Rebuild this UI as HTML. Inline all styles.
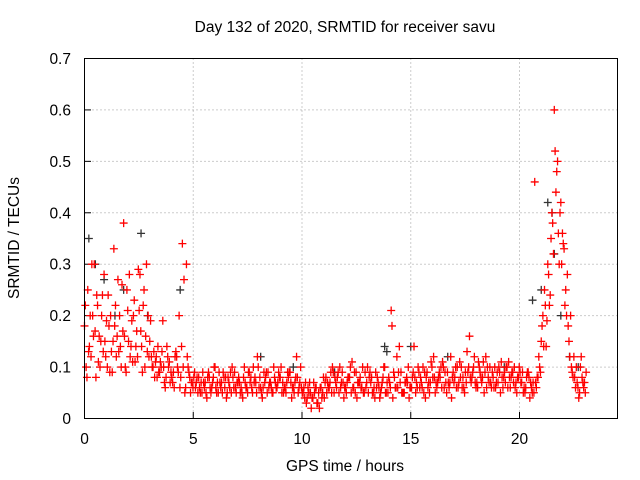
<!DOCTYPE html>
<html><head><meta charset="utf-8"><style>
body{margin:0;background:#fff;}
svg{display:block;font-family:"Liberation Sans",sans-serif;font-size:15.5px;}
</style></head><body>
<svg id="chart" width="640" height="480">
<text x="345" y="32" text-anchor="middle">Day 132 of 2020, SRMTID for receiver savu</text>
<text x="345" y="471" text-anchor="middle">GPS time / hours</text>
<text transform="translate(19,238) rotate(-90)" text-anchor="middle">SRMTID / TECUs</text>
<g id="grid"></g>
<g id="ticks"></g>
<g id="pts"></g>
<rect x="84.5" y="58.5" width="533" height="360" fill="none" stroke="#000"/>
</svg>
<script>
const xTicks=[0,5,10,15,20];
const yTicks=[0,0.1,0.2,0.3,0.4,0.5,0.6,0.7];
const yTickLabels=["0","0.1","0.2","0.3","0.4","0.5","0.6","0.7"];
const step=0.15;
const seriesAStart=0;
const seriesA=[0.18,0.25,0.12,0.3,0.22,0.15,0.28,0.1,0.2,0.33,0.16,0.14,0.38,0.25,0.12,0.2,0.17,0.28,0.22,0.3,0.15,
0.1,0.12,0.09,0.19,0.08,0.11,0.07,0.13,0.2,0.34,0.06,0.09,0.07,
0.06,0.08,0.05,0.07,0.09,0.06,0.1,0.05,0.07,0.06,0.08,0.05,0.09,0.07,0.06,0.1,0.05,0.08,0.07,0.12,0.06,0.09,0.05,0.07,0.1,0.06,0.08,0.05,0.07,0.09,0.06,0.12,0.07,
0.05,0.03,0.07,0.04,0.06,0.02,0.05,0.08,0.06,0.1,0.07,0.05,0.09,0.06,0.08,0.11,0.05,0.07,0.06,0.09,0.05,0.08,0.04,0.07,0.06,0.1,0.05,0.21,0.08,0.06,0.09,0.05,0.07,0.06,
0.14,0.06,0.08,0.05,0.09,0.07,0.12,0.06,0.08,0.1,0.05,0.07,0.09,0.06,0.11,0.08,0.07,0.16,0.09,0.06,0.1,0.08,0.12,0.07,0.09,0.06,0.1,0.08,0.07,0.11,0.09,0.06,0.08,
0.07,0.05,0.09,0.06,0.46,0.08,0.15,0.25,0.3,0.35,0.6,0.5,0.42,0.33,0.28,0.2,0.12,0.07,0.1,0.06];
const seriesBStart=0.075;
const seriesB=[0.1,0.14,0.2,0.08,0.16,0.24,0.12,0.18,0.09,0.22,0.13,0.26,0.1,0.15,0.19,0.11,0.29,0.14,0.1,0.2,0.12,
0.08,0.14,0.1,0.07,0.12,0.09,0.06,0.1,0.08,0.27,0.12,0.05,0.08,
0.08,0.05,0.07,0.04,0.06,0.08,0.05,0.07,0.09,0.04,0.06,0.08,0.05,0.07,0.04,0.06,0.09,0.05,0.07,0.06,0.04,0.08,0.06,0.05,0.07,0.09,0.05,0.06,0.08,0.04,0.07,0.05,0.06,
0.04,0.06,0.02,0.05,0.03,0.06,0.04,0.07,0.09,0.05,0.08,0.06,0.04,0.07,0.1,0.06,0.04,0.08,0.05,0.07,0.09,0.05,0.06,0.04,0.08,0.05,0.07,0.04,0.06,0.14,0.05,0.07,0.04,0.08,
0.05,0.09,0.06,0.04,0.07,0.1,0.05,0.08,0.06,0.09,0.07,0.04,0.08,0.06,0.1,0.05,0.09,0.07,0.12,0.06,0.08,0.05,0.1,0.07,0.06,0.09,0.05,0.08,0.1,0.06,0.07,0.05,0.09,
0.05,0.08,0.04,0.07,0.06,0.1,0.2,0.14,0.22,0.38,0.44,0.3,0.36,0.25,0.15,0.09,0.06,0.04,0.08,0.05];
const seriesCStart=0.0375;
const seriesC=[0.22,0.13,0.3,0.17,0.11,0.2,0.15,0.24,0.13,0.18,0.27,0.1,0.16,0.21,0.14,0.23,0.12,0.17,0.25,0.13,0.19,
0.13,0.08,0.11,0.1,0.14,0.07,0.09,0.12,0.06,0.1,0.3,0.08,0.06,
0.07,0.06,0.09,0.05,0.08,0.07,0.06,0.09,0.05,0.08,0.07,0.1,0.06,0.08,0.05,0.07,0.09,0.06,0.08,0.1,0.05,0.07,0.09,0.06,0.08,0.07,0.1,0.06,0.09,0.07,0.05,0.08,0.1,
0.06,0.04,0.05,0.07,0.03,0.06,0.08,0.05,0.07,0.09,0.06,0.1,0.07,0.05,0.08,0.06,0.09,0.07,0.1,0.06,0.08,0.05,0.09,0.06,0.07,0.05,0.08,0.18,0.06,0.09,0.05,0.07,0.1,0.06,
0.08,0.1,0.07,0.09,0.06,0.11,0.08,0.07,0.1,0.06,0.09,0.12,0.07,0.1,0.08,0.06,0.13,0.08,0.1,0.07,0.09,0.11,0.06,0.1,0.08,0.07,0.09,0.06,0.1,0.08,0.09,0.07,0.1,
0.09,0.06,0.08,0.05,0.07,0.12,0.18,0.22,0.28,0.4,0.52,0.36,0.3,0.22,0.18,0.1,0.08,0.06,0.12,0.07];
const seriesDStart=0.1125;
const seriesD=[0.08,0.2,0.16,0.24,0.1,0.13,0.19,0.09,0.15,0.12,0.2,0.17,0.09,0.28,0.11,0.14,0.21,0.09,0.16,0.12,0.1,
0.11,0.09,0.13,0.06,0.1,0.08,0.12,0.09,0.14,0.05,0.1,0.07,0.09,
0.05,0.07,0.06,0.08,0.05,0.1,0.07,0.06,0.08,0.05,0.09,0.06,0.07,0.05,0.08,0.06,0.07,0.1,0.05,0.08,0.06,0.09,0.07,0.05,0.06,0.08,0.07,0.05,0.09,0.06,0.08,0.06,0.05,
0.07,0.05,0.04,0.06,0.05,0.04,0.07,0.06,0.05,0.08,0.09,0.07,0.06,0.08,0.05,0.09,0.07,0.06,0.05,0.1,0.07,0.06,0.08,0.05,0.1,0.07,0.06,0.09,0.12,0.07,0.05,0.08,0.06,0.09,
0.07,0.06,0.1,0.08,0.05,0.08,0.07,0.09,0.11,0.07,0.06,0.08,0.1,0.07,0.06,0.09,0.1,0.08,0.07,0.11,0.07,0.09,0.08,0.06,0.1,0.07,0.11,0.09,0.06,0.08,0.1,0.08,0.07,
0.06,0.09,0.07,0.05,0.08,0.09,0.14,0.19,0.24,0.32,0.48,0.4,0.34,0.2,0.12,0.08,0.1,0.05,0.07,0.09];
const blackTimes=[0.2,0.5,0.9,1.4,1.8,2.6,2.9,4.4,8.1,9.6,11.5,13.8,13.9,15.0,16.7,19.3,20.6,21.0,21.3,21.5,21.6,21.9,22.3,22.7];
const blackValues=[0.35,0.3,0.27,0.2,0.25,0.36,0.2,0.25,0.12,0.1,0.09,0.14,0.13,0.14,0.12,0.1,0.23,0.25,0.42,0.4,0.32,0.2,0.12,0.1];

const X=h=>84.5+h*21.75;
const Y=v=>418.5-v*514.3;
const NS='http://www.w3.org/2000/svg';
function mk(tag,attrs,parent){const e=document.createElementNS(NS,tag);for(const k in attrs)e.setAttribute(k,attrs[k]);parent.appendChild(e);return e;}
const grid=document.getElementById('grid'),ticks=document.getElementById('ticks'),pts=document.getElementById('pts');
xTicks.forEach(t=>{
  if(t>0){const l=mk('line',{x1:X(t),x2:X(t),y1:58.5,y2:418.5,stroke:'#999','stroke-dasharray':'1,3'},grid);
  
  }
  mk('line',{x1:X(t),x2:X(t),y1:418.5,y2:412,stroke:'#000'},ticks);
  const tx=mk('text',{x:X(t),y:444,'text-anchor':'middle'},ticks);tx.textContent=t;
  
  
});
yTicks.forEach((v,i)=>{
  if(i>0&&i<yTicks.length-1){const l=mk('line',{x1:84.5,x2:617.5,y1:Y(v),y2:Y(v),stroke:'#999','stroke-dasharray':'1,3'},grid);
  
  }
  mk('line',{x1:84.5,x2:91,y1:Y(v),y2:Y(v),stroke:'#000'},ticks);
  const tx=mk('text',{x:71,y:Y(v)+5.5,'text-anchor':'end'},ticks);tx.textContent=yTickLabels[i];
  
  
});
function plus(h,v,color){
  const x=X(h),y=Y(v);
  const p=mk('path',{d:`M${x-4},${y}H${x+4}M${x},${y-4}V${y+4}`,stroke:color,'stroke-width':1.3,fill:'none'},pts);
  
  
}
blackTimes.forEach((t,i)=>plus(t,blackValues[i],'#333'));
seriesA.forEach((v,i)=>plus(seriesAStart+i*step,v,'#f00'));
seriesB.forEach((v,i)=>plus(seriesBStart+i*step,v,'#f00'));
seriesC.forEach((v,i)=>plus(seriesCStart+i*step,v,'#f00'));
seriesD.forEach((v,i)=>plus(seriesDStart+i*step,v,'#f00'));
</script>
</body></html>
